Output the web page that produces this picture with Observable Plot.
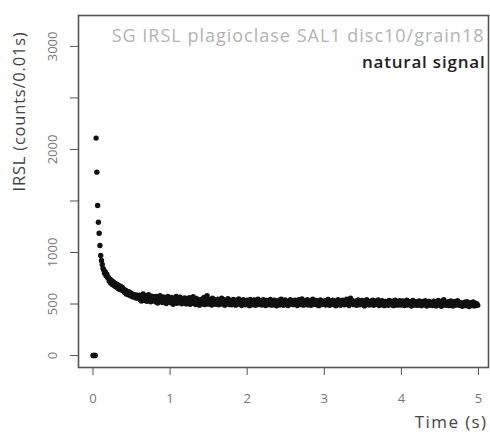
<!DOCTYPE html>
<html>
<head>
<meta charset="utf-8">
<script src="https://cdn.jsdelivr.net/npm/d3@7"></script>
<script src="https://cdn.jsdelivr.net/npm/@observablehq/plot@0.6"></script>
<style>
  html, body { margin: 0; padding: 0; background: #fff; }
  #chart svg { display: block; }
</style>
</head>
<body>
<div id="chart"></div>
<script>
// --- data ---
const channelWidth = 0.01; // s per channel
const counts = [
  0,0,0,0,2110,1780,1456,1294,1187,1068,971,922,
  884,846,830,798,812,771,790,757,
  758,724,741,703,729,690,716,682,705,671,694,660,688,649,679,642,670,636,661,628,
  641,612,633,598,625,604,589,618,582,607,575,598,569,591,580,562,587,557,578,571,
  585,541,572,530,566,597,549,534,581,556,527,569,590,543,561,522,575,548,536,570,
  558,521,574,543,509,566,537,580,528,552,515,569,541,526,561,505,548,573,530,519,
  546,512,563,531,498,557,539,521,574,508,535,552,517,566,526,503,548,537,511,559,
  527,501,551,536,514,562,498,529,545,508,571,519,535,496,553,524,510,542,489,532,
  518,547,502,529,563,494,537,512,581,526,499,541,515,533,490,556,507,524,543,498,
  531,505,548,492,519,536,510,557,499,524,541,487,515,530,503,552,521,496,534,509,
  493,527,545,502,516,489,538,511,524,550,497,508,531,485,519,542,504,527,492,515,
  536,498,521,484,544,509,526,493,517,539,502,487,530,514,548,496,520,505,532,490,
  512,541,499,523,486,535,508,528,494,517,545,501,489,526,511,538,497,520,483,529,
  506,534,491,518,547,503,524,488,512,539,497,521,508,486,531,515,543,499,510,527,
  494,518,537,502,529,485,513,541,507,496,525,550,504,489,520,533,498,516,542,491,
  523,505,531,488,514,546,499,520,507,535,492,517,528,484,511,540,502,525,496,519,
  508,532,490,521,503,545,514,487,526,499,518,537,495,509,530,483,522,506,541,497,
  515,489,528,504,536,512,493,524,508,547,498,519,485,531,557,542,510,523,494,516,
  501,530,487,518,539,506,492,525,511,534,496,513,482,528,507,543,499,520,490,514,
  527,495,509,536,488,518,504,531,497,514,540,486,521,508,493,533,502,517,484,525,
  499,521,510,487,535,503,516,492,528,506,484,519,538,497,512,489,526,505,532,491,
  517,494,529,508,485,522,500,537,490,513,526,496,507,481,520,534,498,511,489,523,
  504,487,518,530,495,509,484,526,501,516,492,533,506,480,519,497,524,489,510,502,
  485,514,528,496,507,482,521,499,535,490,512,503,478,527,509,541,494,518,488,506,
  497,523,484,511,530,493,505,481,519,498,526,489,508,532,501,515,486,512,495,479,
  508,491,517,484,503,522,488,499,476,513,494,507,485,520,496,482,509,490,501,487
];
const xTicks = [0, 1, 2, 3, 4, 5];
const yTicks = [0, 500, 1000, 1500, 2000, 2500, 3000];
const yLabelled = [0, 500, 1000, 2000, 3000];
const titleText = "SG IRSL plagioclase SAL1 disc10/grain18";
const subtitleText = "natural signal";
const xTitle = "Time (s)";
const yTitle = "IRSL (counts/0.01s)";

const data = counts.map((c, i) => ({t: +(i * channelWidth).toFixed(2), c}));

const FONT = "'Open Sans', sans-serif";
const AX = "#555";

const chart = Plot.plot({
  width: 490,
  height: 432,
  marginLeft: 78,
  marginRight: 2,
  marginTop: 15,
  marginBottom: 65,
  style: {fontFamily: FONT, background: "#fff", color: AX},
  x: {domain: [-0.188, 5.13], inset: 0},
  y: {domain: [-116, 3300], inset: 0},
  marks: [
    Plot.frame({stroke: AX, strokeWidth: 1.6}),
    Plot.axisX({ticks: xTicks, tickSize: 8, tickPadding: 18, fontSize: 13, label: null,
      tickFormat: d => String(d), stroke: AX, fill: "#777"}),
    Plot.axisY({ticks: yTicks, tickSize: 8, tickRotate: -90, tickPadding: 14, fontSize: 13, label: null,
      tickFormat: d => yLabelled.includes(d) ? String(d) : "", stroke: AX, fill: "#777"}),
    Plot.dot(data, {x: "t", y: "c", r: 2.7, fill: "#111", stroke: null}),
    Plot.text([titleText], {frameAnchor: "top-right", dx: -4, dy: 14, fontSize: 18, fill: "#b3b3b3", textAnchor: "end"}),
    Plot.text([subtitleText], {frameAnchor: "top-right", dx: -3, dy: 40, fontSize: 17, fill: "#222", fontWeight: 600, textAnchor: "end"}),
    Plot.text([xTitle], {frameAnchor: "bottom-right", dx: -1, dy: 60, fontSize: 17, fill: "#444", textAnchor: "end"}),
    Plot.text([yTitle], {frameAnchor: "left", dx: -59, dy: -80, rotate: -90, fontSize: 16.5, fill: "#444", textAnchor: "middle"})
  ]
});
const spacing = new Map([[titleText, 1], [subtitleText, 0.8], [xTitle, 1.4], [yTitle, 0.8]]);
d3.select(chart).selectAll("text").each(function() {
  const s = spacing.get(this.textContent);
  if (s != null) this.style.letterSpacing = s + "px";
});
document.getElementById("chart").appendChild(chart);
</script>
</body>
</html>
